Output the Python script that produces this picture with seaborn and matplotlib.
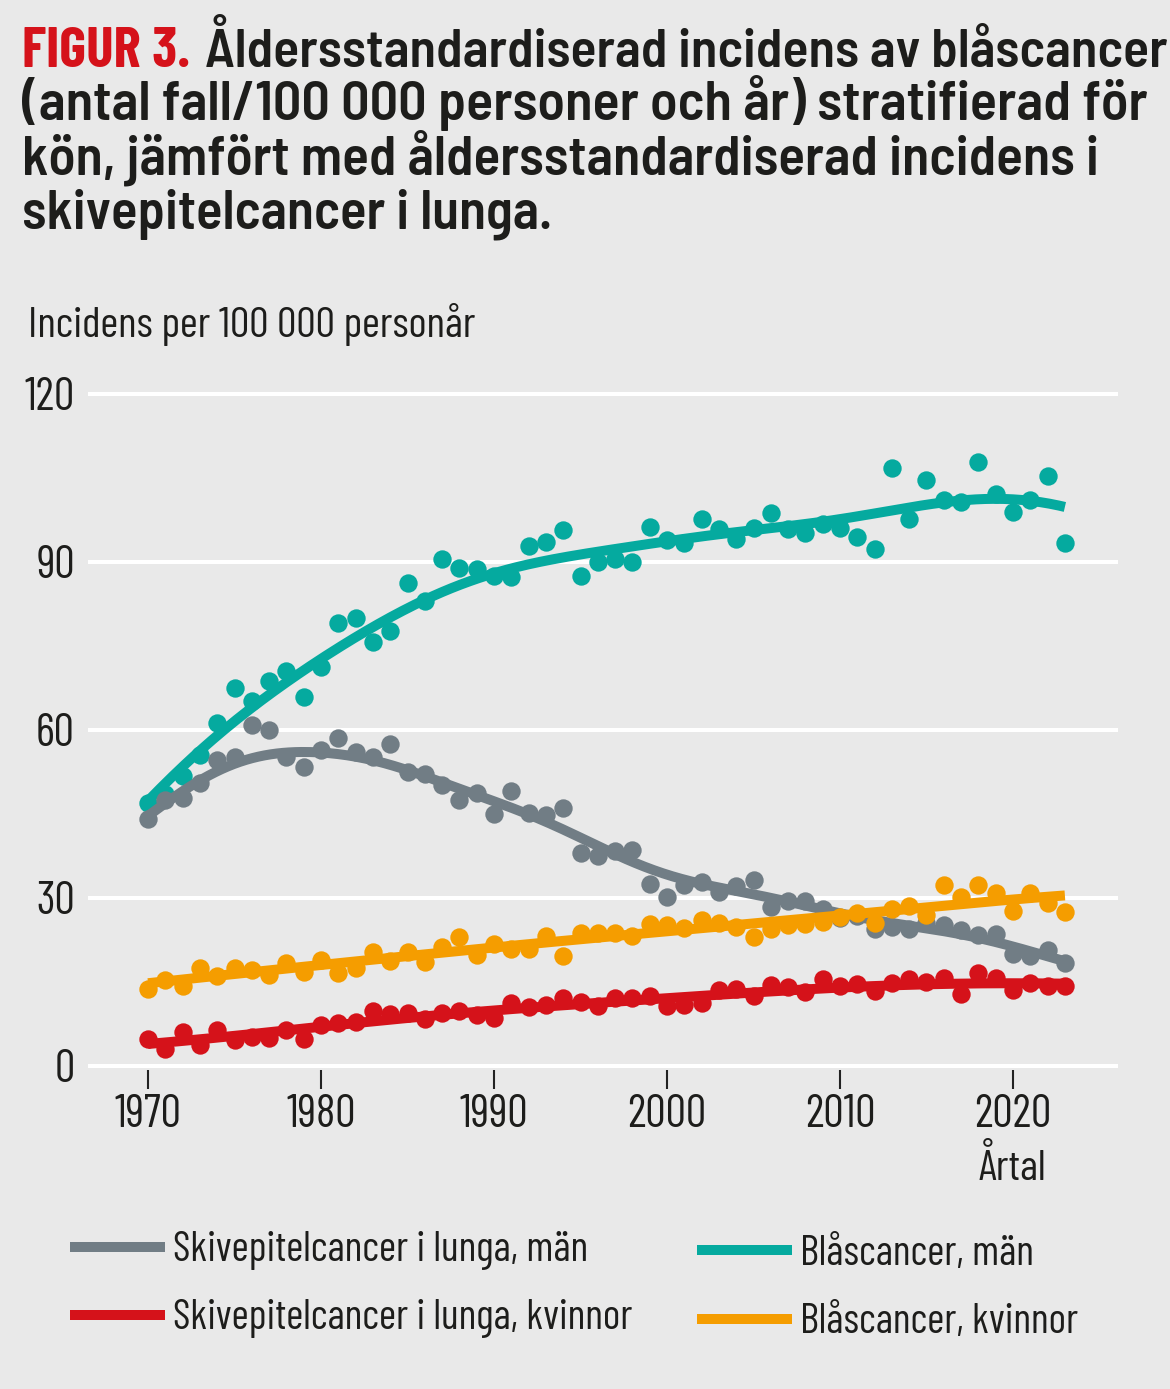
import numpy as np
import pandas as pd
import matplotlib
matplotlib.use("Agg")
import matplotlib.pyplot as plt
import seaborn as sns
from matplotlib.lines import Line2D

# --- data (incidence per 100 000 person-years) ---
years = list(range(1970, 2024))

blas_man = [47.0, 48.5, 51.8, 55.5, 61.2, 67.5, 65.2, 68.8, 70.6, 65.9,
            71.2, 79.1, 80.0, 75.7, 77.7, 86.2, 83.0, 90.5, 88.9, 88.8,
            87.5, 87.3, 92.9, 93.6, 95.7, 87.5, 90.0, 90.5, 90.0, 96.3,
            93.9, 93.4, 97.7, 95.9, 94.1, 96.1, 98.7, 95.9, 95.2, 96.8,
            96.1, 94.5, 92.4, 106.8, 97.7, 104.6, 101.1, 100.7, 107.9, 102.1,
            98.9, 101.1, 105.4, 93.4]

lunga_man = [44.1, 47.5, 47.9, 50.5, 54.6, 55.2, 60.9, 60.0, 55.2, 53.4,
             56.4, 58.5, 56.1, 55.2, 57.5, 52.5, 52.1, 50.2, 47.5, 48.8,
             45.0, 49.1, 45.2, 44.8, 46.1, 38.0, 37.5, 38.4, 38.6, 32.5,
             30.2, 32.3, 32.9, 31.1, 32.2, 33.2, 28.4, 29.5, 29.5, 28.0,
             26.4, 26.8, 24.4, 24.8, 24.5, 25.6, 25.2, 24.2, 23.4, 23.6,
             20.0, 19.6, 20.7, 18.4]

blas_kvinnor = [13.7, 15.4, 14.3, 17.5, 16.0, 17.5, 17.1, 16.3, 18.4, 16.8,
                18.9, 16.6, 17.5, 20.4, 18.8, 20.4, 18.6, 21.3, 23.0, 19.8,
                21.8, 20.9, 20.9, 23.2, 19.6, 23.8, 23.8, 23.8, 23.2, 25.4,
                25.2, 24.6, 26.1, 25.5, 24.8, 23.0, 24.5, 25.2, 25.4, 25.8,
                26.6, 27.4, 25.6, 28.0, 28.6, 27.0, 32.3, 30.2, 32.3, 30.9,
                27.7, 30.9, 29.1, 27.5]

lunga_kvinnor = [4.8, 3.0, 6.1, 3.8, 6.4, 4.6, 5.2, 5.0, 6.4, 4.8,
                 7.3, 7.7, 7.9, 9.8, 9.3, 9.5, 8.4, 9.5, 9.8, 9.1,
                 8.6, 11.2, 10.5, 10.9, 12.1, 11.4, 10.7, 12.1, 12.1, 12.5,
                 10.7, 10.9, 11.2, 13.6, 13.7, 12.5, 14.5, 14.1, 13.2, 15.5,
                 14.3, 14.6, 13.4, 14.8, 15.5, 15.0, 15.7, 12.9, 16.6, 15.7,
                 13.6, 14.8, 14.3, 14.3]

labels = ["Skivepitelcancer i lunga, män", "Skivepitelcancer i lunga, kvinnor",
          "Blåscancer, män", "Blåscancer, kvinnor"]
colors = {"Skivepitelcancer i lunga, män": "#717d85",
          "Skivepitelcancer i lunga, kvinnor": "#d5121a",
          "Blåscancer, män": "#05aa9f",
          "Blåscancer, kvinnor": "#f59d00"}
series = {"Skivepitelcancer i lunga, män": lunga_man,
          "Skivepitelcancer i lunga, kvinnor": lunga_kvinnor,
          "Blåscancer, män": blas_man,
          "Blåscancer, kvinnor": blas_kvinnor}
# smoothing bandwidth (years) for each trend line
bandwidth = {"Skivepitelcancer i lunga, män": 3.3,
             "Skivepitelcancer i lunga, kvinnor": 7.0,
             "Blåscancer, män": 4.8,
             "Blåscancer, kvinnor": 10.0}

x_ticks = [1970, 1980, 1990, 2000, 2010, 2020]
y_ticks = [0, 30, 60, 90, 120]


def smooth(x, y, h=3.0):
    # local linear regression with a gaussian kernel (loess-like trend)
    x = np.asarray(x, float)
    y = np.asarray(y, float)
    grid = np.linspace(x.min(), x.max(), 300)
    out = []
    for g in grid:
        w = np.exp(-0.5 * ((x - g) / h) ** 2)
        X = np.column_stack([np.ones_like(x), x - g])
        Wm = np.diag(w)
        beta = np.linalg.solve(X.T @ Wm @ X, X.T @ Wm @ y)
        out.append(beta[0])
    return grid, np.array(out)


# --- style ---
bg = "#e9e9e9"
ink = "#1d1d1b"
sns.set_theme(style="white")
plt.rcParams["font.family"] = ["Barlow Condensed", "DejaVu Sans"]
plt.rcParams["figure.facecolor"] = bg
plt.rcParams["axes.facecolor"] = bg

fig = plt.figure(figsize=(11.7, 13.89), dpi=100)
W, H = 1170, 1389
renderer = fig.canvas.get_renderer()


def fit_size(text, target_px, **kw):
    t = fig.text(0, 0, text, fontsize=20, **kw)
    w = t.get_window_extent(renderer=renderer).width
    t.remove()
    return 20 * target_px / w


# axes: x 88..1118 px, y = 0 at 1066 px, 5.6 px per unit
ymin, ymax = -0.7, 121
px_unit = 5.6
ax_bottom = 1066 + (-ymin) * px_unit
ax_h = (ymax - ymin) * px_unit
ax = fig.add_axes([88 / W, (H - ax_bottom) / H, 1030 / W, ax_h / H])

order = ["Blåscancer, män", "Skivepitelcancer i lunga, män",
         "Skivepitelcancer i lunga, kvinnor", "Blåscancer, kvinnor"]
for name in order:
    df = pd.DataFrame({"year": years, "value": series[name]})
    gx, gy = smooth(df["year"], df["value"], h=bandwidth[name])
    sns.scatterplot(data=df, x="year", y="value", ax=ax, color=colors[name],
                    s=175, linewidth=0, zorder=3)
    sns.lineplot(x=gx, y=gy, ax=ax, color=colors[name], linewidth=7.2,
                 zorder=3, solid_capstyle="butt")

tick_fs = fit_size("1970", 67)
ax.set_xlim(1966.53, 2026.07)
ax.set_ylim(ymin, ymax)
ax.set_xticks(x_ticks)
ax.set_yticks(y_ticks)
ax.set_xlabel("")
ax.set_ylabel("")
for y in y_ticks:
    ax.axhline(y, color="white", linewidth=2.9, zorder=1)
for s in ax.spines.values():
    s.set_visible(False)
ax.tick_params(axis="x", direction="out", length=13.5, width=1.5, color="#222222",
               labelsize=tick_fs, labelcolor=ink, pad=4, bottom=True)
ax.tick_params(axis="y", length=0, labelsize=tick_fs, labelcolor=ink, pad=9.4)
ax.grid(False)

# --- title ---
red_kw = dict(family=["Barlow Condensed", "DejaVu Sans"], fontweight="bold")
fs_red = fit_size("FIGUR 3.", 168, **red_kw)
fig.text(22 / W, 1 - 67 / H, "FIGUR 3.", color="#d5121a", fontsize=fs_red,
         va="baseline", **red_kw)

title_kw = dict(family=["Barlow Semi Condensed", "DejaVu Sans"], fontweight=600)
title_lines = [
    (205, 67, "Åldersstandardiserad incidens av blåscancer", 960),
    (22, 120, "(antal fall/100 000 personer och år) stratifierad för", 1125),
    (22, 174, "kön, jämfört med åldersstandardiserad incidens i", 1075),
    (22, 228, "skivepitelcancer i lunga.", 528),
]
for x, y, s, w in title_lines:
    fs = fit_size(s, w, **title_kw)
    fig.text(x / W, 1 - y / H, s, fontsize=fs, color=ink, va="baseline", **title_kw)

# --- axis labels ---
fs_lab = fit_size("Incidens per 100 000 personår", 449)
fig.text(28 / W, 1 - 337 / H, "Incidens per 100 000 personår", fontsize=fs_lab,
         color=ink, va="baseline")
fig.text(1046 / W, 1 - 1180 / H, "Årtal", fontsize=fs_lab, color=ink,
         va="baseline", ha="right")

# --- legend ---
fs_leg = fit_size("Skivepitelcancer i lunga, män", 416)
px_pt = 100 / 72
leg_pos = {"Skivepitelcancer i lunga, män": (70, 1251),
           "Skivepitelcancer i lunga, kvinnor": (70, 1319),
           "Blåscancer, män": (697, 1254),
           "Blåscancer, kvinnor": (697, 1323)}
for name in labels:
    x, y = leg_pos[name]
    h = Line2D([0], [0], color=colors[name], linewidth=7.2, solid_capstyle="butt")
    fig.legend([h], [name], loc="center left", bbox_to_anchor=(x / W, 1 - y / H),
               frameon=False, fontsize=fs_leg, borderpad=0, borderaxespad=0,
               handlelength=95 / (fs_leg * px_pt),
               handletextpad=8 / (fs_leg * px_pt), labelcolor=ink)

fig.savefig("out.png", dpi=100, facecolor=bg)
